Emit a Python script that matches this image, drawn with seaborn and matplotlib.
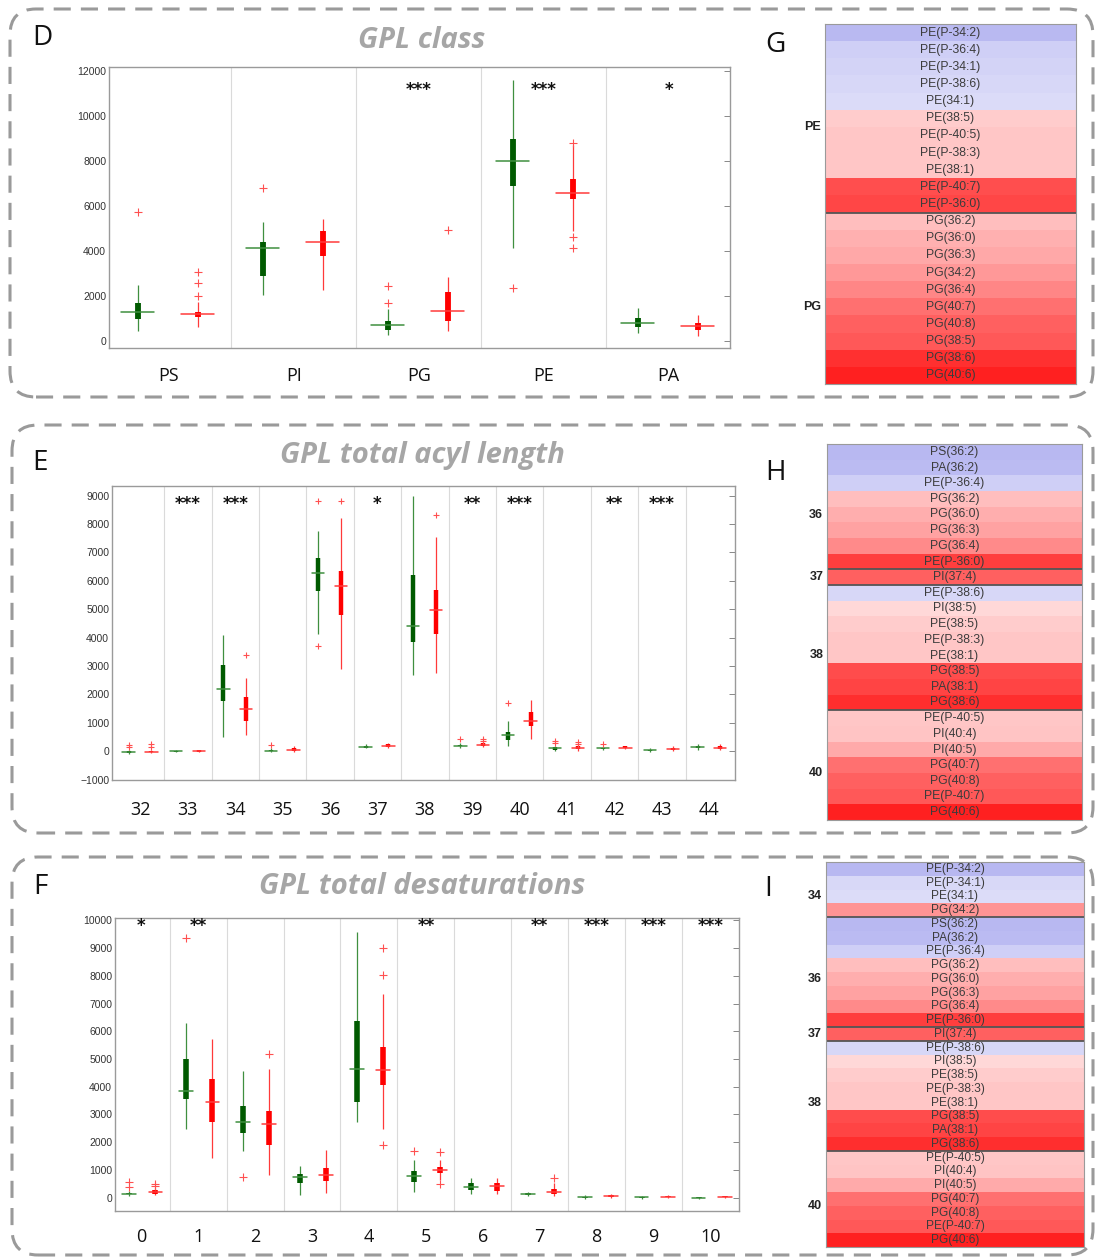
import matplotlib
matplotlib.use('Agg')
import matplotlib.pyplot as plt
from matplotlib.patches import FancyBboxPatch
from matplotlib.transforms import IdentityTransform, blended_transform_factory
from matplotlib.colors import LinearSegmentedColormap
import seaborn as sns
import numpy as np

# 데이터 : (whisker low, q1, median, q3, whisker high)
d_labels = ['PS', 'PI', 'PG', 'PE', 'PA']
d_green = [[450, 1000, 1300, 1700, 2500], [2050, 2900, 4150, 4400, 5300], [300, 500, 720, 900, 1450],
           [4150, 6900, 8000, 9000, 11600], [350, 620, 800, 1020, 1500]]
d_green_out = [[5750], [6800], [1700, 2450], [2350], []]
d_red = [[650, 1100, 1200, 1300, 1750], [2300, 3800, 4400, 4900, 5450], [450, 900, 1350, 2200, 2850],
         [4900, 6300, 6600, 7200, 8700], [250, 500, 700, 800, 1150]]
d_red_out = [[2000, 2600, 3100], [], [4950], [4150, 4650, 8800], []]
d_stars = ['', '', '***', '***', '*']

e_labels = ['32', '33', '34', '35', '36', '37', '38', '39', '40', '41', '42', '43', '44']
e_green = [[-80, -60, -30, 10, 60], [-40, -15, 0, 15, 40], [520, 1760, 2200, 3030, 4090],
           [-20, 0, 20, 50, 100], [4140, 5630, 6260, 6820, 7750], [100, 130, 160, 200, 250],
           [2680, 3840, 4400, 6220, 9000], [120, 170, 200, 230, 300], [200, 390, 560, 680, 1060],
           [0, 60, 100, 150, 200], [60, 90, 110, 130, 160], [-20, 20, 40, 60, 100], [50, 100, 150, 200, 250]]
e_green_out = [[150, 220], [], [], [230], [3690, 8810], [], [], [450], [1700], [280, 380], [260], [], []]
e_red = [[-60, -40, -20, 0, 50], [-40, -10, 10, 30, 60], [590, 1070, 1490, 1910, 2590],
         [-10, 20, 60, 120, 200], [2910, 4800, 5830, 6340, 8230], [130, 160, 200, 240, 300],
         [2770, 4140, 4990, 5690, 7550], [150, 200, 230, 280, 320], [430, 880, 1050, 1380, 1800],
         [20, 80, 120, 180, 220], [80, 100, 130, 170, 200], [0, 50, 80, 120, 170], [50, 80, 130, 200, 260]]
e_red_out = [[150, 250], [], [3390], [], [8810], [], [8320], [350, 450], [], [260, 320], [], [], []]
e_stars = ['', '***', '***', '', '', '*', '', '**', '***', '', '**', '***', '']

f_labels = ['0', '1', '2', '3', '4', '5', '6', '7', '8', '9', '10']
f_green = [[50, 120, 150, 180, 250], [2460, 3550, 3855, 5000, 6290], [1690, 2350, 2720, 3300, 4580],
           [80, 540, 750, 870, 1150], [2720, 3460, 4650, 6370, 9580], [190, 550, 780, 960, 1370],
           [130, 280, 390, 520, 720], [60, 110, 140, 180, 220], [-40, 0, 20, 40, 90],
           [-40, -10, 10, 30, 60], [-30, -10, 0, 10, 30]]
f_green_out = [[380, 560], [9350], [735], [], [], [1675], [], [], [], [], []]
f_red = [[100, 150, 200, 260, 350], [1445, 2720, 3460, 4265, 5710], [810, 1915, 2640, 3130, 4640],
         [180, 600, 830, 1080, 1720], [2460, 4050, 4600, 5450, 7330], [620, 900, 1000, 1100, 1350],
         [120, 250, 420, 540, 720], [50, 120, 220, 330, 520], [0, 30, 50, 80, 120],
         [-20, 10, 30, 50, 80], [0, 15, 30, 45, 70]]
f_red_out = [[430, 500], [], [5170], [], [1915, 8020, 9010], [480, 1640], [], [720], [], [], []]
f_stars = ['*', '**', '', '', '', '**', '', '**', '***', '***', '***']

# heatmap 데이터
g_rows = ['PE(P-34:2)', 'PE(P-36:4)', 'PE(P-34:1)', 'PE(P-38:6)', 'PE(34:1)', 'PE(38:5)', 'PE(P-40:5)',
          'PE(P-38:3)', 'PE(38:1)', 'PE(P-40:7)', 'PE(P-36:0)', 'PG(36:2)', 'PG(36:0)', 'PG(36:3)',
          'PG(34:2)', 'PG(36:4)', 'PG(40:7)', 'PG(40:8)', 'PG(38:5)', 'PG(38:6)', 'PG(40:6)']
g_vals = [-0.54, -0.37, -0.34, -0.31, -0.28, 0.2, 0.22, 0.22, 0.22, 0.69, 0.72,
          0.25, 0.31, 0.34, 0.4, 0.47, 0.56, 0.62, 0.65, 0.81, 0.87]
g_groups = ['PE', 'PG']
g_sizes = [11, 10]

h_rows = ['PS(36:2)', 'PA(36:2)', 'PE(P-36:4)', 'PG(36:2)', 'PG(36:0)', 'PG(36:3)', 'PG(36:4)',
          'PE(P-36:0)', 'PI(37:4)', 'PE(P-38:6)', 'PI(38:5)', 'PE(38:5)', 'PE(P-38:3)', 'PE(38:1)',
          'PG(38:5)', 'PA(38:1)', 'PG(38:6)', 'PE(P-40:5)', 'PI(40:4)', 'PI(40:5)', 'PG(40:7)',
          'PG(40:8)', 'PE(P-40:7)', 'PG(40:6)']
h_vals = [-0.55, -0.53, -0.37, 0.25, 0.32, 0.36, 0.46, 0.75, 0.62, -0.31, 0.15, 0.2, 0.22, 0.22,
          0.7, 0.73, 0.82, 0.22, 0.23, 0.33, 0.56, 0.62, 0.65, 0.87]
h_groups = ['36', '37', '38', '40']
h_sizes = [8, 1, 8, 7]

i_rows = ['PE(P-34:2)', 'PE(P-34:1)', 'PE(34:1)', 'PG(34:2)'] + h_rows
i_vals = [-0.55, -0.3, -0.27, 0.42] + h_vals
i_groups = ['34', '36', '37', '38', '40']
i_sizes = [4, 8, 1, 8, 7]

sns.set_style('white')
plt.rcParams['font.family'] = ['Liberation Sans', 'DejaVu Sans']

W, H = 1096, 1259
fig = plt.figure(figsize=(W / 100, H / 100), dpi=100)


def px_axes(l, t, r, b):
    return fig.add_axes([l / W, 1 - b / H, (r - l) / W, (b - t) / H])


def draw_group(ax, stats, outs, off, box_c, line_c, box_lw, half, ms):
    for i, (lo, q1, med, q3, hi) in enumerate(stats):
        x = i + off
        ax.plot([x, x], [lo, hi], color=line_c, lw=0.9, solid_capstyle='butt', zorder=2)
        ax.plot([x, x], [q1, q3], color=box_c, lw=box_lw, solid_capstyle='butt', zorder=3)
        ax.plot([x - half, x + half], [med, med], color=line_c, lw=1.1, zorder=4)
        if outs[i]:
            ax.plot([x] * len(outs[i]), outs[i], ls='none', marker='+', color='#ff5050',
                    ms=ms, mew=0.8, zorder=4)


def box_panel(ax, labels, green, green_out, red, red_out, stars, star_y, xlim, ylim, yticks,
              box_lw, offs, half, ms, pad):
    n = len(labels)
    for i in range(n - 1):
        ax.axvline(i + 0.5, color='#dadada', lw=0.8, zorder=0)
    draw_group(ax, green, green_out, offs[0], '#005a00', '#3f8f3f', box_lw, half, ms)
    draw_group(ax, red, red_out, offs[1], '#ff0000', '#ff3a3a', box_lw, half, ms)
    for i, s in enumerate(stars):
        if s:
            ax.text(i, star_y, s, ha='center', va='center', fontsize=12, fontweight='bold',
                    family='DejaVu Sans', color='#111111')
    ax.set_xlim(*xlim)
    ax.set_ylim(*ylim)
    ax.set_yticks(yticks)
    ax.set_xticks(range(n))
    ax.set_xticklabels(labels, fontsize=13, family=['Open Sans', 'DejaVu Sans'], color='#111111')
    ax.tick_params(axis='x', length=0, pad=pad)
    ax.tick_params(axis='y', direction='in', length=4, width=0.7, labelsize=7.5, right=True,
                   labelcolor='#333333', color='#888888', pad=2)
    for sp in ax.spines.values():
        sp.set_color('#9a9a9a')
        sp.set_linewidth(1.0)


cmap = LinearSegmentedColormap.from_list('soft_bwr', ['#7f7fe6', '#ffffff', '#ff0000'])


def heat_panel(ax, rows, vals, groups, sizes, fs):
    data = np.array(vals).reshape(-1, 1)
    annot = np.array(rows).reshape(-1, 1)
    sns.heatmap(data, ax=ax, cmap=cmap, vmin=-1, vmax=1, cbar=False, annot=annot, fmt='',
                annot_kws={'size': fs, 'color': '#3c3c3c'}, xticklabels=False, yticklabels=False)
    tr = blended_transform_factory(ax.transAxes, ax.transData)
    start = 0
    for g, n in zip(groups, sizes):
        if start > 0:
            ax.axhline(start, color='#555555', lw=1.3)
        pos = min(start + n / 2 + 0.5, start + n - 0.5)
        ax.text(-0.015, pos, g, transform=tr, ha='right', va='center', fontsize=9,
                fontweight='bold', color='#222222')
        start += n
    for sp in ax.spines.values():
        sp.set_visible(True)
        sp.set_color('#9a9a9a')
        sp.set_linewidth(0.8)


# 점선 박스
for (l, t, r, b) in [(10, 9, 1093, 397), (12, 425, 1093, 833), (12, 857, 1093, 1255)]:
    fig.add_artist(FancyBboxPatch((l, H - b), r - l, b - t, boxstyle='round,pad=0,rounding_size=26',
                                  transform=IdentityTransform(), fill=False, ec='#9a9a9a', lw=2.2,
                                  ls=(0, (5.6, 3.3)), clip_on=False))

# D : GPL class
ax_d = px_axes(109, 67, 730, 348)
box_panel(ax_d, d_labels, d_green, d_green_out, d_red, d_red_out, d_stars, 11150,
          (-0.48, 4.49), (-295, 12180), range(0, 12001, 2000), 4.2, (-0.25, 0.23), 0.13, 6, 14)

# E : GPL total acyl length
ax_e = px_axes(112, 486, 735, 780)
box_panel(ax_e, e_labels, e_green, e_green_out, e_red, e_red_out, e_stars, 8700,
          (-0.6, 12.54), (-1010, 9340), range(-1000, 9001, 1000), 3.2, (-0.25, 0.23), 0.13, 5, 15)

# F : GPL total desaturations
ax_f = px_axes(115, 918, 739, 1211)
box_panel(ax_f, f_labels, f_green, f_green_out, f_red, f_red_out, f_stars, 9800,
          (-0.46, 10.5), (-480, 10085), range(0, 10001, 1000), 4.0, (-0.21, 0.25), 0.12, 5.5, 12)

# heatmaps
heat_panel(px_axes(825, 24, 1076, 384), g_rows, g_vals, g_groups, g_sizes, 8.8)
heat_panel(px_axes(827, 444, 1082, 820), h_rows, h_vals, h_groups, h_sizes, 8.8)
heat_panel(px_axes(826, 862, 1084, 1247), i_rows, i_vals, i_groups, i_sizes, 8.6)

# 패널 글자와 제목
font_os = ['Open Sans', 'DejaVu Sans']
for s, x, y in [('D', 42, 38), ('G', 775, 45), ('E', 40, 463), ('H', 775, 473), ('F', 40, 887), ('I', 768, 889)]:
    fig.text(x / W, 1 - y / H, s, ha='center', va='center', fontsize=20, family=font_os, color='#111111')
for s, y in [('GPL class', 40), ('GPL total acyl length', 456), ('GPL total desaturations', 886)]:
    fig.text(422 / W, 1 - y / H, s, ha='center', va='center', fontsize=21, fontstyle='italic',
             fontweight='bold', family=font_os, color='#a6a6a6')

fig.savefig('out.png', dpi=100)
